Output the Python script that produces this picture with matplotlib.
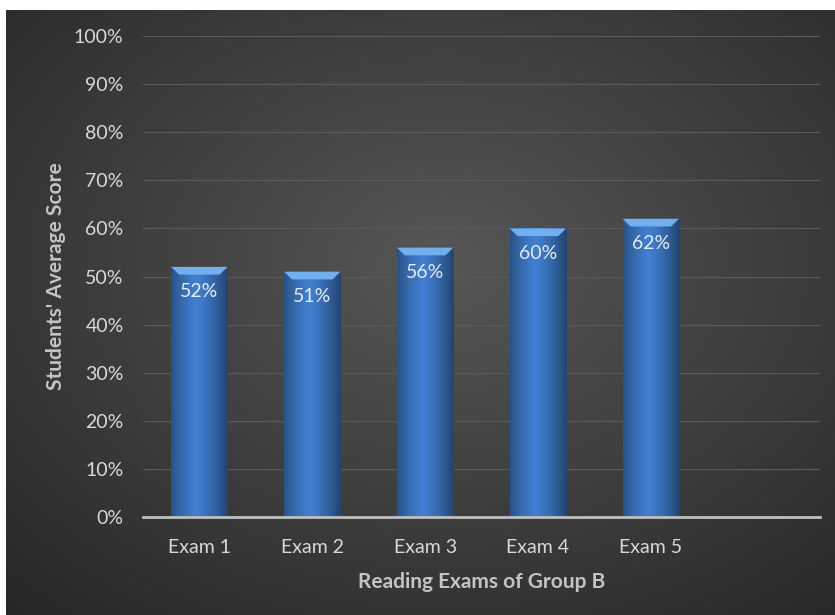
"""
Reading exams of group B - average score bar chart
"""
import matplotlib.pyplot as plt
from matplotlib.patches import Polygon
import numpy as np

# data
exams = ["Exam 1", "Exam 2", "Exam 3", "Exam 4", "Exam 5", ""]
scores = [0.52, 0.51, 0.56, 0.60, 0.62]
y_ticks = np.linspace(0, 1, 11)
y_tick_labels = [f"{int(round(t*100))}%" for t in y_ticks]

plt.rcParams["font.family"] = ["Lato", "DejaVu Sans"]
text_col = "#d9d9d9"
label_col = "#c4c4c4"

fig = plt.figure(figsize=(8.35, 6.15), dpi=100)
fig.patch.set_facecolor("white")

# dark radial background panel
bg = fig.add_axes([6/835, 0, 1 - 6/835, 1 - 10/615])
bg.set_axis_off()
yy, xx = np.mgrid[0:1:300j, 0:1:400j]
r = np.sqrt(((xx - 0.53)/0.75)**2 + ((yy - 0.42)/0.75)**2)
shade = np.clip(0.34 - 0.18*r, 0.15, 0.34)
bg.imshow(np.dstack([shade]*3), extent=[0, 1, 0, 1], aspect="auto", origin="upper")
bg.set_xlim(0, 1)
bg.set_ylim(0, 1)

ax = fig.add_axes([143/835, 1 - 517/615, (820 - 143)/835, (517 - 36)/615])
ax.patch.set_alpha(0)

x = np.arange(len(exams))
bars = ax.bar(x[:len(scores)], scores, width=0.5, color="#3a75c0", zorder=3)

# horizontal gradient inside each bar
grad = np.linspace(0, 1, 100)
prof = 1 - 0.5*np.abs(grad - 0.45)**1.3*2
base = np.array([0.25, 0.50, 0.82])
img = np.clip(base[None, None, :]*prof[None, :, None]*np.ones((2, 1, 1)), 0, 1)
for b in bars:
    x0, w, h = b.get_x(), b.get_width(), b.get_height()
    im = ax.imshow(img, extent=[x0, x0 + w, 0, h], aspect="auto", zorder=3.5)
    im.set_clip_path(b)
    # top bevel
    d = w*0.14
    bev = Polygon([[x0, h], [x0 + w, h], [x0 + w - d, h - 0.016], [x0 + d, h - 0.016]],
                  closed=True, facecolor="#70b0f0", edgecolor="none", zorder=4)
    ax.add_patch(bev)
    ax.annotate(f"{int(round(h*100))}%", (x0 + w/2, h), xytext=(0, -18),
                textcoords="offset points", ha="center", va="center",
                color="#e6ecf5", fontsize=14, zorder=5)

ax.set_xlim(-0.5, len(exams) - 0.5)
ax.set_ylim(0, 1)
ax.set_yticks(y_ticks)
ax.set_yticklabels(y_tick_labels)
ax.set_xticks(x)
ax.set_xticklabels(exams)
ax.tick_params(axis="both", length=0, colors=text_col, labelsize=14)
ax.tick_params(axis="y", pad=14)
ax.tick_params(axis="x", pad=16)
ax.grid(axis="y", color="#5a5a5a", linewidth=0.8, zorder=0)
ax.set_axisbelow(True)
for side in ["top", "right", "left"]:
    ax.spines[side].set_visible(False)
ax.spines["bottom"].set_color("#bfbfbf")
ax.spines["bottom"].set_linewidth(2)
ax.spines["bottom"].set_zorder(6)

ax.set_xlabel("Reading Exams of Group B", color=label_col, fontsize=15,
              fontweight="bold", labelpad=11)
ax.set_ylabel("Students' Average Score", color=label_col, fontsize=15,
              fontweight="bold", labelpad=6)

fig.savefig("out.png", dpi=100)
